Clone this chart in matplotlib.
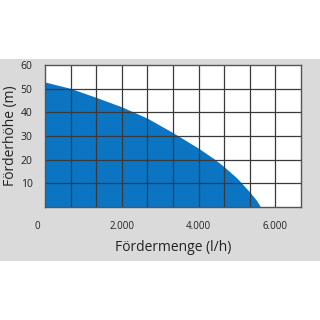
import matplotlib
matplotlib.use('Agg')
import matplotlib.pyplot as plt
import matplotlib.transforms as mtransforms
from matplotlib.patches import Rectangle

plt.rcParams['font.family'] = ['Open Sans', 'DejaVu Sans']

# pump curve
flow = [0, 667, 1333, 2000, 2667, 3333, 4000, 4400, 4667, 5000,
        5333, 5500, 5616]
head = [52.8, 50.1, 46.3, 42.3, 37.5, 31.4, 24.8, 20.4, 17.0, 12.2,
        6.3, 3.0, 0]

x_ticks = [0, 2000, 4000, 6000]
x_labels = ['0', '2.000', '4.000', '6.000']
y_ticks = [10, 20, 30, 40, 50, 60]

blue = '#0b75c3'
x_max = 6666.67

fig = plt.figure(figsize=(3.2, 3.2), dpi=100)
fig.patch.set_facecolor('white')
# grey panel behind the chart
fig.patches.append(Rectangle((0, 0.184), 1, 0.632, transform=fig.transFigure,
                             facecolor='#dadada', edgecolor='none', zorder=-10))

ax = fig.add_axes([0.1406, 0.353, 0.8, 0.444])
ax.set_zorder(5)
ax.set_facecolor('white')
ax.fill_between(flow, head, 0, color=blue, linewidth=0, zorder=1)

ax.set_xlim(0, x_max)
ax.set_ylim(0, 60)

# 10 x 6 grid
for i in range(1, 10):
    ax.axvline(i * x_max / 10, color='#3a3a3a', linewidth=0.9, zorder=2)
for v in range(10, 60, 10):
    ax.axhline(v, color='#3a3a3a', linewidth=0.9, zorder=2)

ax.set_xticks(x_ticks)
ax.set_xticklabels(x_labels, fontsize=7, color='#222222')
ax.set_yticks(y_ticks)
ax.set_yticklabels([str(v) for v in y_ticks], fontsize=7.5, color='#222222')
ax.tick_params(which='both', length=0)
ax.tick_params(axis='x', pad=10)
ax.tick_params(axis='y', pad=9)

# the "0" sits a bit left of the axis
offset = mtransforms.ScaledTranslation(-8 / 100, 0, fig.dpi_scale_trans)
lbl0 = ax.get_xticklabels()[0]
lbl0.set_transform(lbl0.get_transform() + offset)

for s in ax.spines.values():
    s.set_color('#555555')
    s.set_linewidth(1)
    s.set_zorder(3)

ax.set_xlabel('Fördermenge (l/h)', fontsize=10, color='#222222', labelpad=6)
ax.set_ylabel('Förderhöhe (m)', fontsize=10, color='#222222', labelpad=2)

fig.savefig('out.png', dpi=100)
